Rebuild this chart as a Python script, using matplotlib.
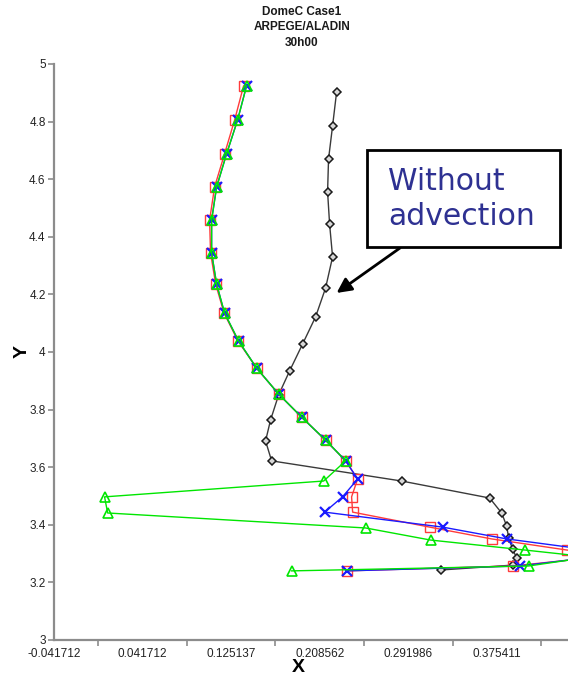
import matplotlib
matplotlib.use("Agg")
import matplotlib.pyplot as plt
import matplotlib.patches as mpatches
from matplotlib.ticker import FixedLocator, FixedFormatter, FormatStrFormatter

plt.rcParams['font.family'] = ['Liberation Sans', 'DejaVu Sans']

# Profile without advection (black diamonds)
noadv_x = [0.2244, 0.2206, 0.2168, 0.2159, 0.2178, 0.2206, 0.2140, 0.2046, 0.1924,
           0.1801, 0.1698, 0.1622, 0.1575, 0.1632, 0.2856, 0.3685, 0.3798, 0.3845,
           0.3864, 0.3901, 0.3939, 0.3901, 0.3223]
noadv_y = [4.903, 4.785, 4.670, 4.556, 4.444, 4.330, 4.222, 4.122, 4.028,
           3.934, 3.851, 3.764, 3.691, 3.622, 3.552, 3.493, 3.441, 3.396,
           3.354, 3.316, 3.285, 3.260, 3.243]

# Red squares
red_x = [0.1368, 0.1284, 0.1189, 0.1095, 0.1048, 0.1057, 0.1105, 0.1184, 0.1316,
         0.1491, 0.1698, 0.1914, 0.2140, 0.2329, 0.2442, 0.2385, 0.2395, 0.3120,
         0.3703, 0.4410, 0.4814, 0.3901, 0.2338]
red_y = [4.924, 4.806, 4.688, 4.573, 4.458, 4.344, 4.236, 4.135, 4.038,
         3.944, 3.854, 3.774, 3.694, 3.622, 3.559, 3.497, 3.444, 3.392,
         3.351, 3.3125, 3.292, 3.257, 3.240]

# Blue crosses
blue_x = [0.1396, 0.1312, 0.1208, 0.1114, 0.1067, 0.1067, 0.1114, 0.1189, 0.1321,
          0.1491, 0.1698, 0.1914, 0.2140, 0.2329, 0.2442, 0.2300, 0.2131, 0.3242,
          0.3845, 0.4909, 0.3967, 0.2338]
blue_y = [4.924, 4.806, 4.688, 4.573, 4.458, 4.344, 4.236, 4.135, 4.038,
          3.944, 3.854, 3.774, 3.694, 3.622, 3.559, 3.497, 3.444, 3.392,
          3.351, 3.299, 3.257, 3.240]

# Green triangles
green_x = [0.1396, 0.1312, 0.1208, 0.1114, 0.1067, 0.1067, 0.1114, 0.1189, 0.1321,
           0.1491, 0.1698, 0.1914, 0.2140, 0.2329, 0.2122, 0.0059, 0.0088, 0.2517,
           0.3129, 0.4014, 0.4626, 0.4052, 0.1820]
green_y = [4.924, 4.806, 4.688, 4.573, 4.458, 4.344, 4.236, 4.135, 4.038,
           3.944, 3.854, 3.774, 3.694, 3.622, 3.552, 3.497, 3.441, 3.389,
           3.347, 3.3125, 3.288, 3.257, 3.240]

x_tick_vals = [-0.041712, 0.041712, 0.125137, 0.208562, 0.291986, 0.375411]
x_tick_labels = ["-0.041712", "0.041712", "0.125137", "0.208562", "0.291986", "0.375411"]
y_tick_vals = [3.0, 3.2, 3.4, 3.6, 3.8, 4.0, 4.2, 4.4, 4.6, 4.8, 5.0]

W, H = 568, 678
fig = plt.figure(figsize=(W / 100, H / 100), dpi=100)

x_min, x_max = -0.041712, 0.46
px_per_unit = 1062.0
ax_w = (x_max - x_min) * px_per_unit
ax = fig.add_axes([54 / W, (H - 640) / H, ax_w / W, 576 / H])
ax.set_xlim(x_min, x_max)
ax.set_ylim(3, 5)

ax.plot(noadv_x, noadv_y, color='#3a3a3a', lw=1.0, marker='D', ms=4.3,
        mfc='#d8d8d8', mec='#1a1a1a', mew=1.1, zorder=3)
ax.plot(red_x, red_y, color='#ff3b3b', lw=1.0, marker='s', ms=7,
        mfc='none', mec='#ff3b3b', mew=1.0, zorder=4)
ax.plot(blue_x, blue_y, color='#1a1aff', lw=1.0, marker='x', ms=6.5,
        mew=1.6, zorder=5)
ax.plot(green_x, green_y, color='#00e600', lw=1.0, marker='^', ms=7,
        mfc='none', mec='#00e600', mew=1.2, zorder=6)

for s in ('top', 'right'):
    ax.spines[s].set_visible(False)
for s in ('left', 'bottom'):
    ax.spines[s].set_color('#8c8c8c')
    ax.spines[s].set_linewidth(1.6)

# x labels sit between the tick marks
ax.xaxis.set_major_locator(FixedLocator(x_tick_vals))
ax.xaxis.set_major_formatter(FixedFormatter(x_tick_labels))
minor = [(x_tick_vals[i] + x_tick_vals[i + 1]) / 2 for i in range(len(x_tick_vals) - 1)]
minor.append(x_tick_vals[-1] + (x_tick_vals[1] - x_tick_vals[0]) / 2)
ax.xaxis.set_minor_locator(FixedLocator(minor))
ax.tick_params(axis='x', which='major', length=0, pad=6, labelsize=8.5, labelcolor='#222222')
ax.tick_params(axis='x', which='minor', length=4, width=1.2, color='#8c8c8c', direction='out')

ax.yaxis.set_major_locator(FixedLocator(y_tick_vals))
ax.yaxis.set_major_formatter(FormatStrFormatter('%g'))
ax.tick_params(axis='y', which='major', length=4, width=1.2, color='#8c8c8c',
               direction='out', pad=2, labelsize=8.5, labelcolor='#222222')

fig.text(298 / W, 1 - 667 / H, "X", ha='center', va='center', fontsize=14, fontweight='bold')
fig.text(22 / W, 1 - 352 / H, "Y", ha='center', va='center', fontsize=14,
         fontweight='bold', rotation=90)

for txt, yy in (("DomeC Case1", 12), ("ARPEGE/ALADIN", 27.5), ("30h00", 43)):
    fig.text(302 / W, 1 - yy / H, txt, ha='center', va='center', fontsize=8.5,
             fontweight='bold', color='#1a1a1a')

# Callout box
box = mpatches.Rectangle((367 / W, 1 - 247 / H), 193 / W, 97 / H,
                         transform=fig.transFigure, fill=True, facecolor='white',
                         edgecolor='black', lw=2.0, zorder=10)
fig.add_artist(box)
fig.text(388 / W, 1 - 190 / H, "Without", ha='left', va='baseline', fontsize=21.5,
         color='#2e3192', family=['DejaVu Sans'], zorder=11)
fig.text(388 / W, 1 - 225 / H, "advection", ha='left', va='baseline', fontsize=21.5,
         color='#2e3192', family=['DejaVu Sans'], zorder=11)

ax.annotate('', xy=(0.2244, 4.205), xycoords='data',
            xytext=(400 / W, 1 - 248 / H), textcoords='figure fraction',
            arrowprops=dict(arrowstyle='-|>', lw=2.0, color='black',
                            mutation_scale=22, shrinkA=0, shrinkB=0))

fig.savefig("out.png", dpi=100)
